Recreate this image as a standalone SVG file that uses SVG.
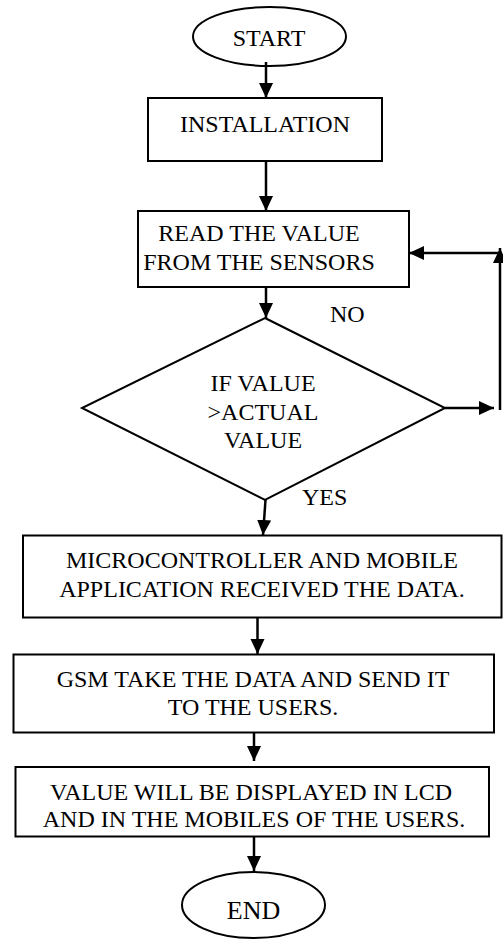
<svg xmlns="http://www.w3.org/2000/svg" width="503" height="939" viewBox="0 0 503 939">
<style>
.shape{fill:#fff;stroke:#000;stroke-width:2}
text{font-family:'Liberation Serif','Times New Roman',serif;font-size:24px;fill:#000}
.t{text-anchor:middle}
.c{fill:none;stroke:#000;stroke-width:2.5}
</style>
<defs>
<marker id="ah" markerUnits="userSpaceOnUse" markerWidth="16" markerHeight="16" refX="15" refY="7" orient="auto">
<path d="M0,0 L15,7 L0,14 z" fill="#000"/>
</marker>
</defs>
<rect width="503" height="939" fill="#fff"/>
<g id="start">
<ellipse class="shape" cx="269.5" cy="36.5" rx="76.5" ry="29.5"/>
<text class="t" x="269" y="45.5">START</text>
</g>
<g id="installation">
<rect class="shape" x="148" y="98" width="234" height="63"/>
<text class="t" x="265" y="131.5">INSTALLATION</text>
</g>
<g id="read">
<rect class="shape" x="138" y="211" width="271" height="76"/>
<text class="t" x="259" y="241">READ THE VALUE</text>
<text class="t" x="259" y="270">FROM THE SENSORS</text>
</g>
<g id="decision">
<polygon class="shape" points="265,318 445,408 265,500 82,408"/>
<text class="t" x="263" y="390.5">IF VALUE</text>
<text class="t" x="263" y="419.5">&gt;ACTUAL</text>
<text class="t" x="263" y="448">VALUE</text>
</g>
<g id="micro">
<rect class="shape" x="23" y="535.5" width="478.5" height="82"/>
<text class="t" x="262" y="568">MICROCONTROLLER AND MOBILE</text>
<text class="t" x="262" y="596.5">APPLICATION RECEIVED THE DATA.</text>
</g>
<g id="gsm">
<rect class="shape" x="13.5" y="654.5" width="480.5" height="78"/>
<text class="t" x="253" y="686.5">GSM TAKE THE DATA AND SEND IT</text>
<text class="t" x="253" y="715">TO THE USERS.</text>
</g>
<g id="display">
<rect class="shape" x="15.5" y="767" width="473.5" height="69.5"/>
<text class="t" x="251" y="800">VALUE WILL BE DISPLAYED IN LCD</text>
<text class="t" x="254" y="826.5">AND IN THE MOBILES OF THE USERS.</text>
</g>
<g id="end">
<ellipse class="shape" cx="253.5" cy="905" rx="71.5" ry="33"/>
<text class="t" x="253.5" y="919" style="font-size:26px">END</text>
</g>
<g id="connectors">
<line class="c" x1="266" y1="62" x2="266" y2="98" marker-end="url(#ah)"/>
<line class="c" x1="266" y1="161" x2="266" y2="211" marker-end="url(#ah)"/>
<line class="c" x1="266" y1="287" x2="266" y2="318" marker-end="url(#ah)"/>
<line class="c" x1="445" y1="408" x2="494" y2="408" marker-end="url(#ah)"/>
<line class="c" x1="500" y1="410" x2="500" y2="248" marker-end="url(#ah)"/>
<line class="c" x1="500" y1="253" x2="409" y2="253" marker-end="url(#ah)"/>
<line class="c" x1="265.5" y1="500" x2="263" y2="535" marker-end="url(#ah)"/>
<line class="c" x1="257.5" y1="618" x2="257.5" y2="654" marker-end="url(#ah)"/>
<line class="c" x1="254" y1="732" x2="254" y2="761" marker-end="url(#ah)"/>
<line class="c" x1="254" y1="837" x2="254" y2="871" marker-end="url(#ah)"/>
<text x="330" y="322">NO</text>
<text x="302" y="505">YES</text>
</g>
</svg>
